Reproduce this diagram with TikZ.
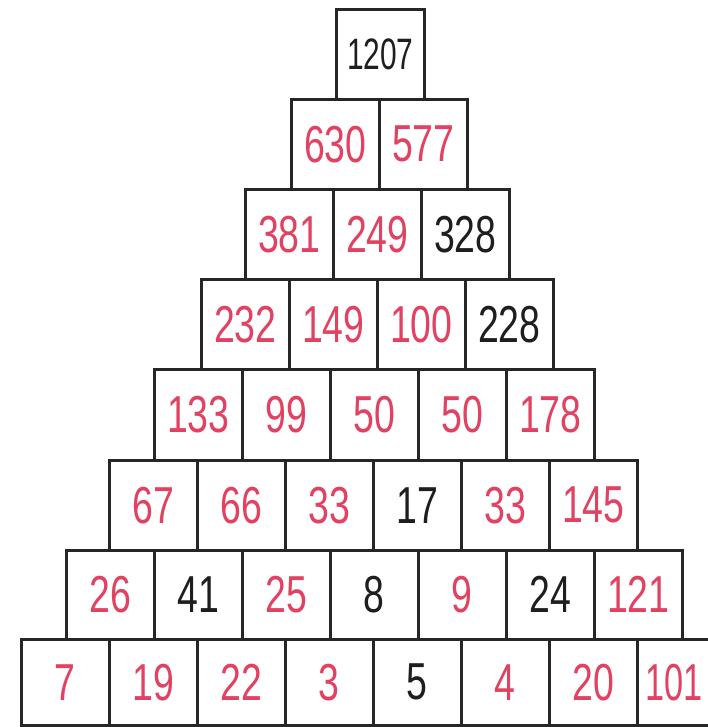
\documentclass[tikz,border=0pt]{standalone}
\usepackage{fontspec}
\setmainfont{Liberation Sans}
\definecolor{cr}{RGB}{226,66,98}
\definecolor{ck}{RGB}{30,30,30}
\tikzset{cell/.style={draw=black!85, line width=2.6pt, minimum width=88pt, minimum height=90pt,
  inner sep=0pt, anchor=north west, font=\fontsize{52}{52}\selectfont}}
\newcommand\cellnum[1]{%
  \ifnum#1>999 {\fontsize{44}{44}\selectfont\scalebox{0.68}[1]{#1}}%
  \else\ifnum#1=101 \makebox[88pt][l]{\hspace{8pt}\scalebox{0.66}[1]{#1}}%
  \else\scalebox{0.72}[1]{#1}\fi\fi}
\begin{document}
\begin{tikzpicture}[x=1pt,y=-1pt]
\useasboundingbox (0,0) rectangle (708,727);
\fill[white] (0,0) rectangle (708,727);
\foreach \r/\lx/\ty/\hh/\cells in {
1/335/8/90/{ck/1207},
2/290/98/90/{cr/630,cr/577},
3/244/188/90/{cr/381,cr/249,ck/328},
4/200/278/90/{cr/232,cr/149,cr/100,ck/228},
5/153/368/91/{cr/133,cr/99,cr/50,cr/50,cr/178},
6/108/459/90/{cr/67,cr/66,cr/33,ck/17,cr/33,cr/145},
7/65/549/89/{cr/26,ck/41,cr/25,ck/8,cr/9,ck/24,cr/121},
8/20/638/86/{cr/7,cr/19,cr/22,cr/3,ck/5,cr/4,cr/20,cr/101}}
{
  \foreach \c/\v [count=\i from 0] in \cells
    \node[cell, minimum height=\hh pt, text=\c] (n\r-\i) at ({\lx+88*\i},\ty) {\cellnum{\v}};
}
\end{tikzpicture}
\end{document}
